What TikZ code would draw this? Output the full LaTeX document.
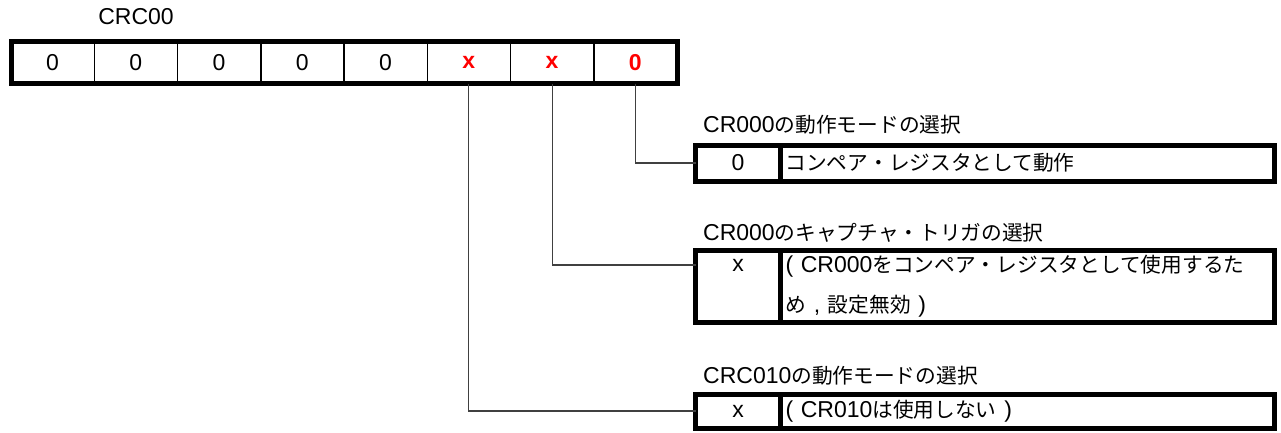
\documentclass[tikz,border=0pt]{standalone}
\usepackage{fontspec}
\setmainfont{Liberation Sans}
\newfontfamily\jp[Scale=0.9]{Noto Sans CJK JP}
\tikzset{
  cell/.style={draw,line width=1.5pt,minimum width=83.25pt,minimum height=42pt,inner sep=0pt,outer sep=0pt},
  plain/.style={},
  hot/.style={text=red,font=\bfseries},
  frame/.style={draw,line width=5pt},
  codebox/.style={frame,minimum width=85pt,inner sep=0pt,outer sep=0pt},
  descbox/.style={frame,text width=484pt,inner xsep=5pt,inner ysep=0pt,outer sep=0pt,align=left},
  title/.style={anchor=west,inner sep=0pt},
  wire/.style={draw=black!75,line width=1.2pt}
}

\begin{document}
\fontsize{23}{27}\selectfont
\begin{tikzpicture}[x=1pt,y=-1pt]
  \useasboundingbox (0,0) rectangle (1281,432);
  % register bits
  \foreach \v/\s [count=\i] in {0/plain,0/plain,0/plain,0/plain,0/plain,x/hot,x/hot,0/hot}
    \node[cell,\s] (c\i) at ({11+83.25*(\i-0.5)},62.5) {\v};
  \draw[frame] (c1.north west) rectangle (c8.south east);
  \node (reg) at (136,17) {CRC00};

  % CR000 mode
  \node[title] (h1) at (703,125) {CR000{\jp の動作モードの選択}};
  \node[codebox,minimum height=36pt] (k1) at (738,163) {0};
  \node[descbox,minimum height=36pt] (d1) at (1027.5,163) {\jp コンペア・レジスタとして動作};

  % CR000 capture trigger
  \node[title] (h2) at (703,233) {CR000{\jp のキャプチャ・トリガの選択}};
  \node[codebox,minimum height=72pt] (k2) at (738,286) {};
  \node (x2) at (738,265) {x};
  \node[descbox,minimum height=72pt,font=\fontsize{23}{40}\selectfont] (d2) at (1027.5,286)
    {( CR000{\jp をコンペア・レジスタとして使用するた}\\{\jp め} , {\jp 設定無効} )};

  % CRC010 mode
  \node[title] (h3) at (703,376) {CRC010{\jp の動作モードの選択}};
  \node[codebox,minimum height=34pt] (k3) at (738,411) {x};
  \node[descbox,minimum height=34pt] (d3) at (1027.5,411) {( CR010{\jp は使用しない} )};

  \draw[wire] (c8.south) |- (k1.west);
  \draw[wire] (c7.south) |- (x2 -| k2.west);
  \draw[wire] (c6.south) |- (k3.west);
\end{tikzpicture}
\end{document}
